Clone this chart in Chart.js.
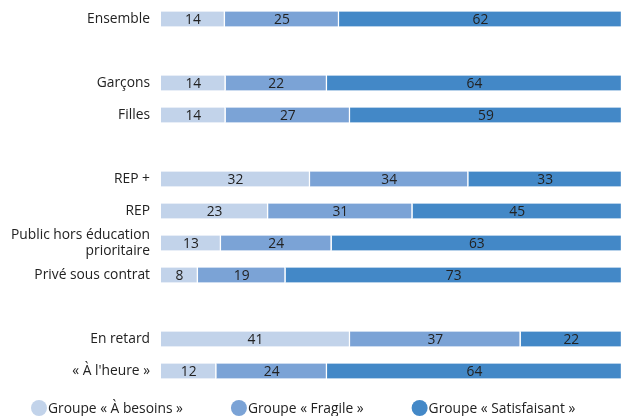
<!DOCTYPE html>
<html>
<head>
<meta charset="utf-8">
<script src="https://cdn.jsdelivr.net/npm/chart.js@4"></script>
<style>
  html, body { margin: 0; padding: 0; background: #fff; }
  #wrap { width: 622px; height: 416px; }
</style>
</head>
<body>
<div id="wrap"><canvas id="groupes-chart"></canvas></div>
<script>
let categories = [
    'Ensemble', '', 'Garçons', 'Filles', '', 'REP +', 'REP',
    ['Public hors éducation', 'prioritaire'], 'Privé sous contrat', '', 'En retard', '« À l\'heure »'
];
let besoins = [14, null, 14, 14, null, 32, 23, 13, 8, null, 41, 12];
let fragile = [25, null, 22, 27, null, 34, 31, 24, 19, null, 37, 24];
let satisfaisant = [62, null, 64, 59, null, 33, 45, 63, 73, null, 22, 64];
let seriesNames = ['Groupe « À besoins »', 'Groupe « Fragile »', 'Groupe « Satisfaisant »'];
let colors = ['#c2d3ea', '#7ba3d6', '#4388c7'];

let fontFamily = '"Open Sans", sans-serif';
let fontSize = 13.8;

// every bar is drawn as a 100 % bar, labels keep the rounded values
let rowTotals = categories.map((_, i) => (besoins[i] || 0) + (fragile[i] || 0) + (satisfaisant[i] || 0));
let share = (values) => values.map((v, i) => v === null ? null : v / rowTotals[i] * 100);

// write the value in the middle of each segment
let valueLabels = {
    id: 'valueLabels',
    afterDatasetsDraw(chart) {
        let ctx = chart.ctx;
        ctx.save();
        ctx.font = fontSize + 'px ' + fontFamily;
        ctx.fillStyle = '#222';
        ctx.textAlign = 'center';
        ctx.textBaseline = 'middle';
        chart.data.datasets.forEach((ds, i) => {
            chart.getDatasetMeta(i).data.forEach((bar, j) => {
                let v = ds.rawValues[j];
                if (v === null) return;
                ctx.fillText(v, (bar.x + bar.base) / 2, bar.y + 1);
            });
        });
        ctx.restore();
    }
};

// legend: circle right next to the text, items spread along the bottom
let bottomLegend = {
    id: 'bottomLegend',
    afterDraw(chart) {
        let ctx = chart.ctx;
        ctx.save();
        ctx.font = fontSize + 'px ' + fontFamily;
        ctx.textBaseline = 'middle';
        ctx.textAlign = 'left';
        let y = chart.height - 8;
        let x = 31;
        chart.data.datasets.forEach((ds) => {
            ctx.fillStyle = ds.backgroundColor;
            ctx.beginPath();
            ctx.arc(x + 8, y, 8, 0, Math.PI * 2);
            ctx.fill();
            ctx.fillStyle = '#222';
            ctx.fillText(ds.label, x + 17, y + 1);
            x += 17 + ctx.measureText(ds.label).width + 48;
        });
        ctx.restore();
    }
};

let ctx = document.getElementById('groupes-chart').getContext('2d');

let datasets = [besoins, fragile, satisfaisant].map((values, i) => ({
    label: seriesNames[i],
    data: share(values),
    rawValues: values,
    backgroundColor: colors[i],
    borderColor: '#ffffff',
    borderWidth: {right: 1.5},
    borderSkipped: false,
    barThickness: 15
}));

let chart = new Chart(ctx, {
    type: 'bar',
    data: {
        labels: categories,
        datasets: datasets
    },
    options: {
        indexAxis: 'y',
        responsive: true,
        maintainAspectRatio: false,
        animation: false,
        layout: {padding: {top: 3, right: 0, left: 0, bottom: 29}},
        scales: {
            x: {
                stacked: true,
                min: 0,
                max: 100,
                display: false
            },
            y: {
                stacked: true,
                grid: {display: false, drawTicks: false},
                border: {display: false},
                afterFit: function (scale) {
                    scale.width = 161;
                    scale.paddingTop = 0;
                    scale.paddingBottom = 0;
                },
                ticks: {
                    autoSkip: false,
                    padding: 11,
                    color: '#222',
                    font: {family: fontFamily, size: fontSize}
                }
            }
        },
        plugins: {
            tooltip: {enabled: false},
            legend: {display: false}
        }
    },
    plugins: [valueLabels, bottomLegend]
});
</script>
</body>
</html>
